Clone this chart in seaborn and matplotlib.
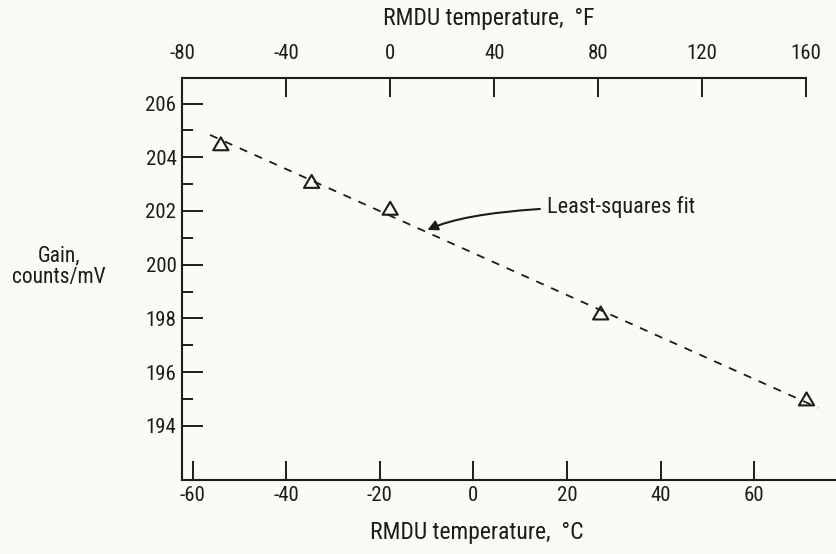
import numpy as np
import pandas as pd
import matplotlib
matplotlib.use("Agg")
import matplotlib.pyplot as plt
import seaborn as sns
from matplotlib.path import Path

# ---- data ----
temp_c = [-54.0, -34.6, -17.8, 27.2, 71.2]
gain = [204.5, 203.1, 202.1, 198.2, 195.0]
fit_c = [-56.3, 73.7]
fit_gain = [204.83, 194.67]
c_ticks = [-60, -40, -20, 0, 20, 40, 60]
f_ticks = [-80, -40, 0, 40, 80, 120, 160]
gain_ticks = [194, 196, 198, 200, 202, 204, 206]
gain_minor = [195, 197, 199, 201, 203, 205]

sns.set_theme(style="white")
FONT = ["Liberation Sans Narrow", "Roboto Condensed", "DejaVu Sans"]
plt.rcParams["font.family"] = FONT
INK = "#1c1c1c"
BG = "#fbfaf4"
TICK_FS = 15

fig = plt.figure(figsize=(8.36, 5.54), dpi=100, facecolor=BG)
ax = fig.add_axes([182 / 836, 1 - 479.5 / 554, 1 - 182 / 836, (479.5 - 78) / 554])
ax.set_facecolor(BG)

df = pd.DataFrame({"temp_c": temp_c, "gain": gain})
fit_df = pd.DataFrame({"temp_c": fit_c, "gain": fit_gain})

sns.lineplot(data=fit_df, x="temp_c", y="gain", ax=ax, color=INK, lw=1.3,
             linestyle=(0, (4.5, 4.5)), legend=False)
tri = Path([(0, 0.85), (-1, -0.85), (1, -0.85), (0, 0.85)],
           [Path.MOVETO, Path.LINETO, Path.LINETO, Path.CLOSEPOLY])
sns.scatterplot(data=df, x="temp_c", y="gain", ax=ax, marker=tri, s=120,
                facecolor="none", edgecolor=INK, linewidth=1.5, legend=False, zorder=3)

ax.set_xlim(-62.3, 77.5)
ax.set_ylim(192.0, 206.95)
ax.set_xlabel("")
ax.set_ylabel("")

for s in ["right", "top"]:
    ax.spines[s].set_visible(False)
for s in ["left", "bottom"]:
    ax.spines[s].set_color(INK)
    ax.spines[s].set_linewidth(1.5)

ax.set_xticks(c_ticks)
ax.set_xticklabels([str(t) for t in c_ticks])
ax.set_yticks(gain_ticks)
ax.set_yticklabels([str(t) for t in gain_ticks])
ax.set_yticks(gain_minor, minor=True)
ax.tick_params(axis="x", which="major", direction="in", length=14, width=1.4,
               color=INK, labelsize=TICK_FS, labelcolor=INK, pad=5, bottom=True)
ax.tick_params(axis="y", which="major", direction="in", length=15, width=1.4,
               color=INK, labelsize=TICK_FS, labelcolor=INK, pad=4, left=True)
ax.tick_params(axis="y", which="minor", direction="in", length=8, width=1.4,
               color=INK, left=True)

def c2f(c):
    return np.asarray(c) * 9.0 / 5.0 + 32.0

def f2c(f):
    return (np.asarray(f) - 32.0) * 5.0 / 9.0

sec = ax.secondary_xaxis("top", functions=(c2f, f2c))
sec.set_xticks(f_ticks)
sec.set_xticklabels([str(t) for t in f_ticks])
sec.tick_params(axis="x", direction="in", length=14, width=1.4, color=INK,
                labelsize=TICK_FS, labelcolor=INK, pad=11)
sec.spines["top"].set_bounds(-80, 160)
sec.spines["top"].set_color(INK)
sec.spines["top"].set_linewidth(1.5)

ax.annotate("Least-squares fit", xy=(-9.85, 201.29), xytext=(15.8, 202.16),
            fontsize=16, color=INK, va="center", ha="left",
            arrowprops=dict(arrowstyle="-|>", color=INK, lw=1.5,
                            connectionstyle="angle3,angleA=0,angleB=25",
                            shrinkA=3, shrinkB=0, mutation_scale=15))

fig.text(59 / 836, 1 - 267 / 554, "Gain,\ncounts/mV", ha="center", va="center",
         multialignment="center", fontsize=15.5, color=INK, linespacing=1.05)
fig.text(489 / 836, 1 - 19 / 554, "RMDU temperature,  °F", ha="center", va="center",
         fontsize=17, color=INK)
fig.text(477 / 836, 1 - 532 / 554, "RMDU temperature,  °C", ha="center", va="center",
         fontsize=17, color=INK)

fig.savefig("out.png", dpi=100, facecolor=BG)
